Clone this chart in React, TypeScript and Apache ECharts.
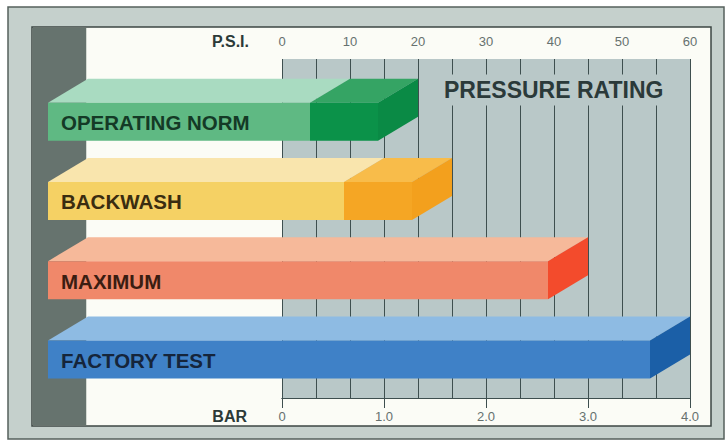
import React, { useEffect, useRef } from "react";
import * as echarts from "echarts";

// ---- data ----
const categories = ["OPERATING NORM", "BACKWASH", "MAXIMUM", "FACTORY TEST"];
const psiValues = [20, 25, 45, 60];
const rangeStartPsi: (number | null)[] = [10, 15, null, null];
const barTickLabels = ["0", "1.0", "2.0", "3.0", "4.0"];

// ---- styles ----
const FONT = "'Liberation Sans', Arial, Helvetica, sans-serif";
const barColors = [
  { frontLight: "#5fb983", topLight: "#a9dbc1", frontDark: "#0b9249", topDark: "#35a464", side: "#0a8a45", text: "#143a26" },
  { frontLight: "#f5d164", topLight: "#f9e5ad", frontDark: "#f5a624", topDark: "#f8bc4a", side: "#f3a01d", text: "#3a2c10" },
  { frontLight: "#f0886a", topLight: "#f6b99a", frontDark: "#f34b2c", topDark: "#f34b2c", side: "#f34b2c", text: "#3a1d12" },
  { frontLight: "#3f81c7", topLight: "#8ebbe3", frontDark: "#1b5fa7", topDark: "#1b5fa7", side: "#1b5fa7", text: "#15253b" },
];
const LEFT_X = 48;
const FRONT_H = 38;
const DX = 40;
const DY = 24;
const LINE = "#3e4f4f";
const GRID_BG = "#b9c8c8";

export default function App() {
  const ref = useRef<HTMLDivElement>(null);
  useEffect(() => {
    if (!ref.current) return;
    const chart = echarts.init(ref.current, null, { renderer: "svg" });
    const option: any = {
      animation: false,
      backgroundColor: "transparent",
      graphic: [
        { type: "rect", z: -20, shape: { x: 8, y: 7, width: 716, height: 432 }, style: { fill: "#c5d0cc", stroke: "#56605c", lineWidth: 1.5 } },
        { type: "rect", z: -19, shape: { x: 32, y: 27, width: 679, height: 399 }, style: { fill: "#fbfcf6", stroke: "#3c4643", lineWidth: 1.5 } },
        { type: "rect", z: -18, shape: { x: 32.75, y: 27.75, width: 53.5, height: 397.5 }, style: { fill: "#66736e" } },
        {
          type: "text", z: 10, x: 440, y: 90,
          style: { text: "PRESSURE RATING", font: `bold 23px ${FONT}`, fill: "#2b3a3a", verticalAlign: "middle", backgroundColor: GRID_BG, padding: [4, 4] },
        },
        { type: "text", z: 10, x: 249, y: 41, style: { text: "P.S.I.", font: `bold 16px ${FONT}`, fill: "#2c3a38", align: "right", verticalAlign: "middle" } },
        { type: "text", z: 10, x: 247, y: 416, style: { text: "BAR", font: `bold 16px ${FONT}`, fill: "#2c3a38", align: "right", verticalAlign: "middle" } },
      ],
      grid: [
        { left: 282, right: 38, top: 59, bottom: 43, show: true, backgroundColor: GRID_BG, borderWidth: 0 },
        { left: 282, right: 38, top: 82, bottom: 42 },
      ],
      xAxis: [
        {
          type: "value", gridIndex: 0, position: "top", min: 0, max: 60, interval: 10,
          axisLine: { show: true, lineStyle: { color: LINE, width: 1 } },
          axisTick: { show: true, length: 10, lineStyle: { color: LINE, width: 1 } },
          axisLabel: { margin: 11, fontSize: 13, color: "#66716f", fontFamily: FONT },
          splitLine: { show: true, lineStyle: { color: LINE, width: 1 } },
          minorTick: { show: false, splitNumber: 2 },
          minorSplitLine: { show: true, lineStyle: { color: LINE, width: 1 } },
        },
        {
          type: "value", gridIndex: 0, position: "bottom", min: 0, max: 4, interval: 1,
          axisLine: { show: true, lineStyle: { color: LINE, width: 1 } },
          axisTick: { show: true, length: 10, lineStyle: { color: LINE, width: 1 } },
          axisLabel: { margin: 12, fontSize: 13, color: "#66716f", fontFamily: FONT, formatter: (v: number) => barTickLabels[Math.round(v)] },
          splitLine: { show: false },
        },
        { type: "value", gridIndex: 1, min: 0, max: 60, show: false },
      ],
      yAxis: [
        { type: "value", gridIndex: 0, min: 0, max: 1, show: false },
        { type: "category", gridIndex: 1, data: categories, inverse: true, show: false },
      ],
      series: [
        {
          type: "custom",
          xAxisIndex: 2,
          yAxisIndex: 1,
          clip: false,
          encode: { x: 0, y: 1 },
          data: psiValues.map((v, i) => [v, i]),
          renderItem: (params: any, api: any) => {
            const val = api.value(0);
            const idx = api.value(1);
            const c = barColors[idx];
            const [xb, yc] = api.coord([val, idx]);
            const ft = yc - FRONT_H / 2;
            const fb = yc + FRONT_H / 2;
            const xfr = xb - DX;
            const rs = rangeStartPsi[idx];
            const xs = rs != null ? api.coord([rs, idx])[0] - DX : xfr;
            const children: any[] = [
              { type: "polygon", shape: { points: [[LEFT_X, ft], [LEFT_X + DX, ft - DY], [xs + DX, ft - DY], [xs, ft]] }, style: { fill: c.topLight } },
              { type: "rect", shape: { x: LEFT_X, y: ft, width: xs - LEFT_X, height: FRONT_H }, style: { fill: c.frontLight } },
            ];
            if (rs != null) {
              children.push(
                { type: "polygon", shape: { points: [[xs, ft], [xs + DX, ft - DY], [xb, ft - DY], [xfr, ft]] }, style: { fill: c.topDark } },
                { type: "rect", shape: { x: xs, y: ft, width: xfr - xs, height: FRONT_H }, style: { fill: c.frontDark } }
              );
            }
            children.push(
              { type: "polygon", shape: { points: [[xfr, ft], [xb, ft - DY], [xb, fb - DY], [xfr, fb]] }, style: { fill: c.side } },
              { type: "text", style: { text: categories[idx], x: 61, y: yc + 1, verticalAlign: "middle", font: `bold 20.5px ${FONT}`, fill: c.text } }
            );
            return { type: "group", children };
          },
        },
      ],
    };
    chart.setOption(option);
    return () => chart.dispose();
  }, []);
  return <div ref={ref} style={{ position: "absolute", left: 0, top: 0, width: 728, height: 441 }} />;
}
